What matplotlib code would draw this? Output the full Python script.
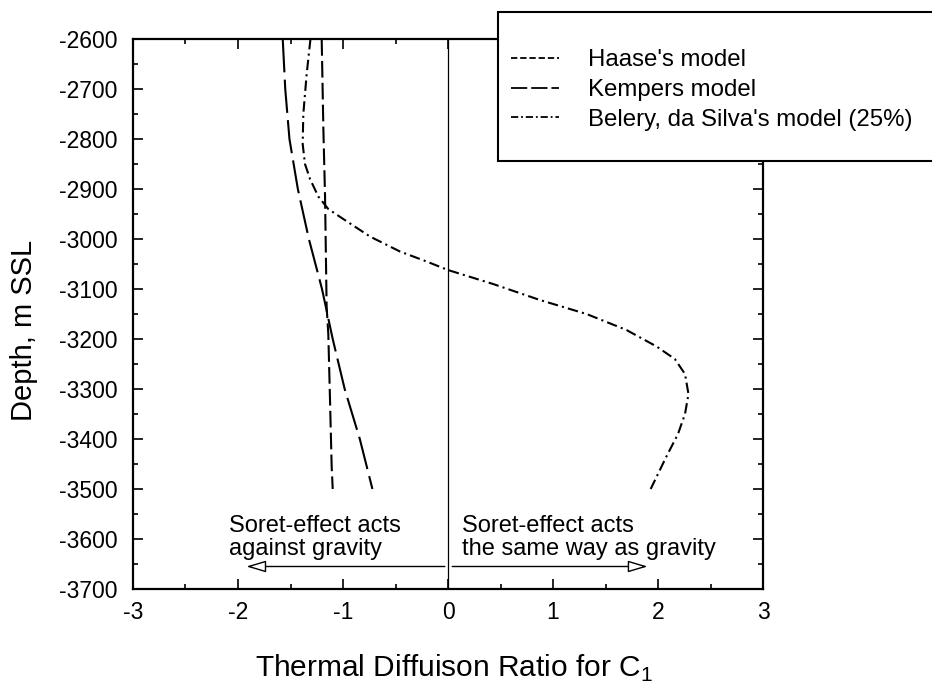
import matplotlib
matplotlib.use("Agg")
import matplotlib.pyplot as plt
from matplotlib.lines import Line2D
from matplotlib.patches import Rectangle
from matplotlib.ticker import MultipleLocator

plt.rcParams["font.family"] = ["Liberation Sans", "DejaVu Sans"]
plt.rcParams["mathtext.fontset"] = "custom"
plt.rcParams["mathtext.rm"] = "Liberation Sans"
plt.rcParams["axes.unicode_minus"] = False

# depth (m SSL) and thermal diffusion ratio
haase_depth = [-2600, -2780, -2915, -3135, -3190, -3320, -3455, -3500]
haase_ratio = [-1.203, -1.187, -1.171, -1.156, -1.14, -1.124, -1.108, -1.098]

kempers_depth = [-2600, -2700, -2800, -2900, -3000, -3100, -3200, -3300, -3400, -3500]
kempers_ratio = [-1.574, -1.55, -1.51, -1.43, -1.325, -1.20, -1.098, -0.984, -0.84, -0.72]

belery_depth = [-2600, -2670, -2750, -2810, -2850, -2880, -2915, -2940, -2960, -2995,
                -3025, -3045, -3062, -3090, -3122, -3150, -3182, -3215, -3240, -3270,
                -3310, -3350, -3390, -3435, -3500]
belery_ratio = [-1.31, -1.346, -1.378, -1.384, -1.362, -1.314, -1.235, -1.14, -0.997, -0.743,
                -0.457, -0.203, 0.0, 0.43, 0.876, 1.32, 1.70, 1.987, 2.16, 2.257,
                2.29, 2.257, 2.19, 2.08, 1.93]

labels = ["Haase's model", "Kempers model", "Belery, da Silva's model (25%)"]

fig = plt.figure(figsize=(9.32, 6.84), dpi=100)
ax = fig.add_axes([0.1427, 0.1389, 0.676, 0.804])

ax.plot(haase_ratio, haase_depth, color="black", lw=1.5, linestyle=(0, (8, 2.5)))
ax.plot(kempers_ratio, kempers_depth, color="black", lw=1.5, linestyle=(0, (16, 3.5)))
ax.plot(belery_ratio, belery_depth, color="black", lw=1.5, linestyle=(0, (5, 2, 1, 2)))
ax.axvline(0, color="black", lw=0.9)

ax.set_xlim(-3, 3)
ax.set_ylim(-3700, -2600)
ax.xaxis.set_major_locator(MultipleLocator(1))
ax.xaxis.set_minor_locator(MultipleLocator(0.5))
ax.yaxis.set_major_locator(MultipleLocator(100))
ax.yaxis.set_minor_locator(MultipleLocator(50))
ax.tick_params(which="both", direction="in", top=True, right=True, width=1.2, labelsize=16.5)
ax.tick_params(which="major", length=7.5)
ax.tick_params(which="minor", length=3.8)
ax.tick_params(axis="x", pad=9)
ax.tick_params(axis="y", pad=11)
for sp in ax.spines.values():
    sp.set_linewidth(1.6)

ax.set_xlabel("Thermal Diffuison Ratio for C$_1$", fontsize=21.5, va="center")
ax.set_ylabel("Depth, m SSL", fontsize=21)
ax.xaxis.set_label_coords(0.51, -0.1436)
ax.yaxis.set_label_coords(-0.151, 0.47)

# direction notes with open arrows
ax.text(-2.085, -3632, "Soret-effect acts\nagainst gravity", fontsize=17, ha="left", va="baseline", linespacing=1.05)
ax.text(0.13, -3632, "Soret-effect acts\nthe same way as gravity", fontsize=17, ha="left", va="baseline", linespacing=1.05)
arrow = dict(arrowstyle="-|>,head_length=0.6,head_width=0.18", fc="white", ec="black", lw=1.0,
             mutation_scale=20, shrinkA=0, shrinkB=0)
ax.annotate("", xy=(-1.92, -3655), xytext=(-0.03, -3655), arrowprops=arrow)
ax.annotate("", xy=(1.9, -3655), xytext=(0.04, -3655), arrowprops=arrow)

# legend box runs off the right edge of the figure
box = Rectangle((0.5343, 0.7646), 0.5, 0.2179, transform=fig.transFigure, fc="white", ec="black",
                lw=1.5, zorder=3, clip_on=False)
fig.patches.append(box)
# legend samples use a finer dash pattern than the curves, as in the original
handles = [Line2D([], [], color="black", lw=1.3, linestyle=(0, (3.5, 1.6))),
           Line2D([], [], color="black", lw=1.3, linestyle=(0, (9, 2.2))),
           Line2D([], [], color="black", lw=1.3, linestyle=(0, (4, 1.6, 1, 1.6)))]
leg = fig.legend(handles, labels, loc="upper left", bbox_to_anchor=(0.548, 1 - 49 / 684), frameon=False,
                 fontsize=17.3, borderpad=0, borderaxespad=0, handlelength=2.0, handletextpad=1.2,
                 labelspacing=0.33)
leg.set_zorder(5)

fig.savefig("out.png", dpi=100)
